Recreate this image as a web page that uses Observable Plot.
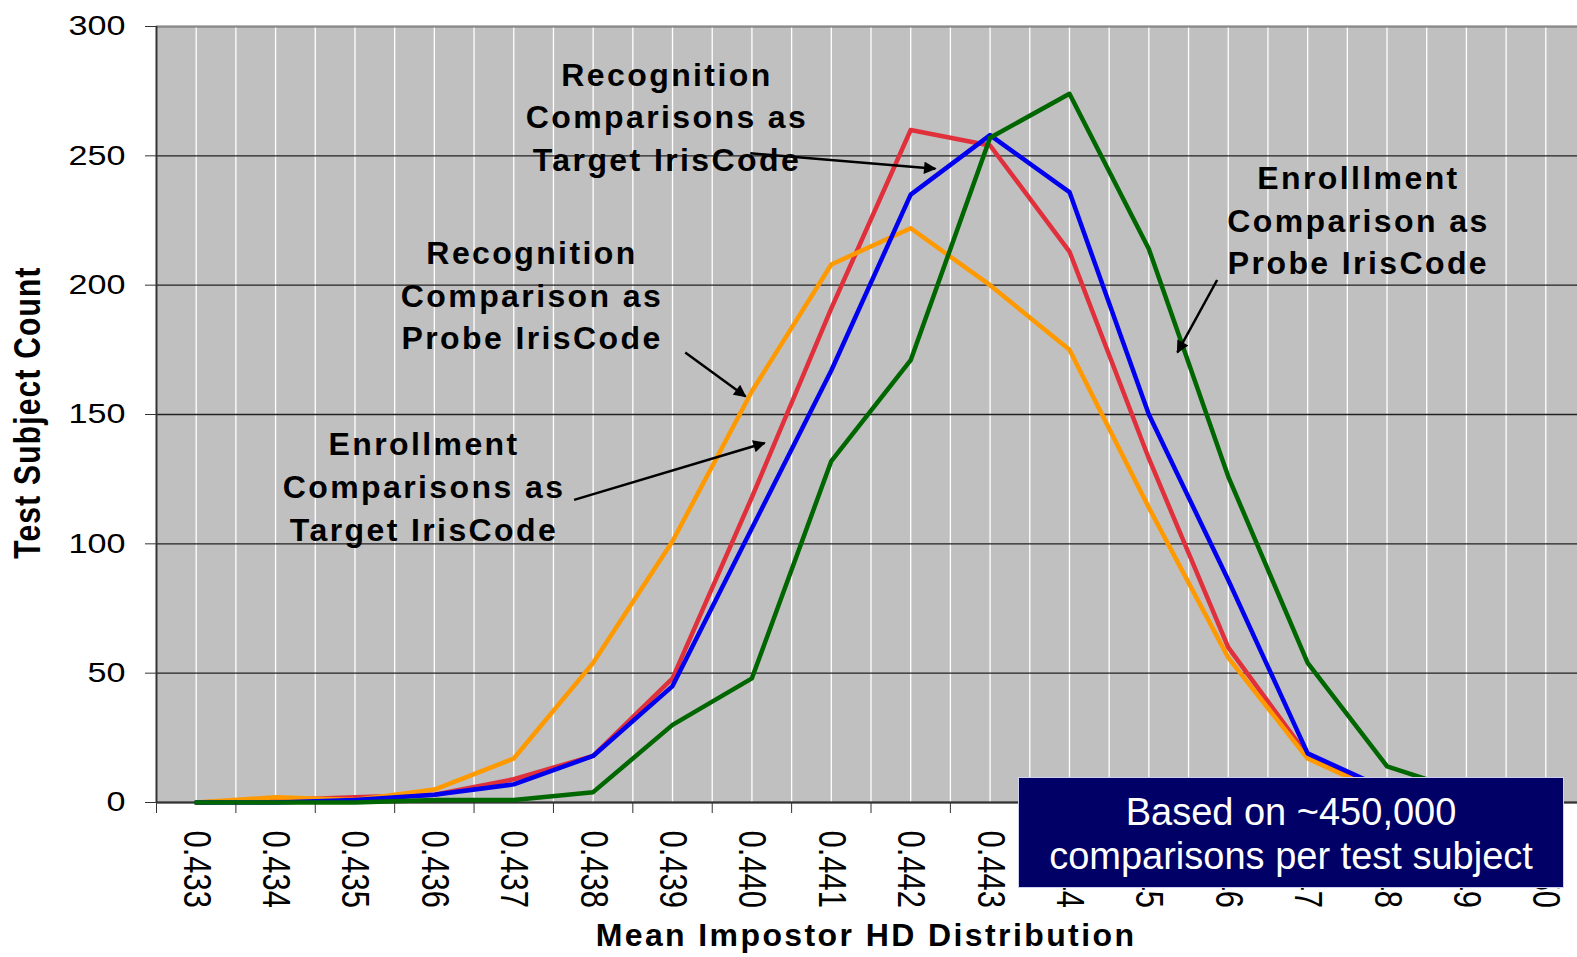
<!DOCTYPE html>
<html>
<head>
<meta charset="utf-8">
<script src="https://cdn.jsdelivr.net/npm/d3@7"></script>
<script src="https://cdn.jsdelivr.net/npm/@observablehq/plot@0.6"></script>
<style>
html, body { margin: 0; padding: 0; background: #fff; overflow: hidden; }
#wrap { position: relative; width: 1577px; height: 957px; overflow: hidden; }
#chart svg { max-width: none !important; }
#note { position: absolute; left: 1018px; top: 777px; width: 546px; height: 111px; box-sizing: border-box;
  background: #000066; border: 1.5px solid #d0d0f0; color: #fff;
  font: 38px "Liberation Sans", Arial, sans-serif; text-align: center; line-height: 44px; padding-top: 12px; }
.annot text { letter-spacing: 2.4px; }
.xtitle text { letter-spacing: 2.4px; }
.ytitle text { letter-spacing: 1.2px; }
</style>
</head>
<body>
<div id="wrap">
  <div id="chart"></div>
  <div id="note">Based on ~450,000<br>comparisons per test subject</div>
</div>
<script>
// Categories (x) and tick values
const categories = ["0.433","0.434","0.435","0.436","0.437","0.438","0.439","0.440","0.441",
                    "0.442","0.443","0.444","0.445","0.446","0.447","0.448","0.449","0.450"];
const yTicks = [0, 50, 100, 150, 200, 250, 300];

// Series values (test subject counts per category)
const enrollTarget = [0, 1, 2, 3, 9, 18, 48, 118, 191, 260, 254, 213, 133, 60, 18, 3, 1, 0];   // red
const recogTarget  = [0, 0, 1, 3, 7, 18, 45, 106, 167, 235, 258, 236, 150, 86, 19, 5, 1, 0];   // blue
const recogProbe   = [0, 2, 1, 5, 17, 54, 101, 159, 208, 222, 200, 175, 114, 56, 17, 3, 1, 0]; // orange
const enrollProbe  = [0, 0, 0, 1, 1, 4, 30, 48, 132, 171, 257, 274, 214, 126, 54, 14, 4, 1];   // green

// Annotation texts and anchors (category index, count)
const notes = [
  {text: "Recognition\nComparisons as\nTarget IrisCode", x: 5.93, y: 266},
  {text: "Recognition\nComparison as\nProbe IrisCode", x: 4.23, y: 197},
  {text: "Enrollment\nComparisons as\nTarget IrisCode", x: 2.87, y: 123},
  {text: "Enrolllment\nComparison as\nProbe IrisCode", x: 14.64, y: 226}
];
const arrows = [
  {x1: 6.98, y1: 251, x2: 9.31, y2: 245},
  {x1: 6.16, y1: 174, x2: 6.92, y2: 157},
  {x1: 4.76, y1: 117, x2: 7.16, y2: 139},
  {x1: 12.86, y1: 202, x2: 12.36, y2: 174}
];

const idx = categories.map((d, i) => i);
const bounds = d3.range(-0.5, categories.length, 1);
const vgrid = d3.range(-0.5, categories.length, 0.5);
const X = (d, i) => i;
const Y = d => d;

const chart = Plot.plot({
  width: 1600, height: 957,
  marginLeft: 156, marginRight: 15, marginTop: 26, marginBottom: 155,
  style: {fontFamily: '"Liberation Sans", Arial, sans-serif', background: "transparent", color: "#000", maxWidth: "none"},
  x: {type: "linear", domain: [-0.5, categories.length - 0.5], label: null},
  y: {domain: [0, 300], label: null},
  marks: [
    Plot.frame({fill: "#c0c0c0", stroke: "none"}),
    Plot.gridX(vgrid, {stroke: "#fff", strokeOpacity: 1, strokeWidth: 1.3}),
    Plot.gridY(yTicks, {stroke: "#222", strokeOpacity: 1, strokeWidth: 1.3}),
    Plot.ruleY([300], {stroke: "#8a8a8a", strokeWidth: 1.5}),
    Plot.ruleX([-0.5], {stroke: "#333", strokeWidth: 2}),
    Plot.ruleY([0], {stroke: "#333", strokeWidth: 2}),
    Plot.line(enrollTarget, {x: X, y: Y, stroke: "#e0303c", strokeWidth: 4.5}),
    Plot.line(recogProbe, {x: X, y: Y, stroke: "#ff9900", strokeWidth: 4.5}),
    Plot.line(recogTarget, {x: X, y: Y, stroke: "#0000ee", strokeWidth: 4.5}),
    Plot.line(enrollProbe, {x: X, y: Y, stroke: "#006600", strokeWidth: 4.5}),
    Plot.link(arrows, {x1: "x1", y1: "y1", x2: "x2", y2: "y2", stroke: "#000", strokeWidth: 2.5, className: "annarrow"}),
    Plot.text(notes, {x: "x", y: "y", text: "text", fontSize: 32, fontWeight: "bold", lineHeight: 1.33, fill: "#000", className: "annot"}),
    Plot.axisY(yTicks, {tickSize: 11, tickPadding: 20, fontSize: 28, stroke: "#333", className: "ylab"}),
    Plot.axisX(bounds, {tickSize: 11, tickFormat: () => "", stroke: "#333"}),
    Plot.axisX(idx, {tickSize: 0, tickRotate: 90, tickPadding: 28, fontSize: 31, tickFormat: i => categories[i], className: "xlab"}),
    Plot.text(["Mean Impostor HD Distribution"], {text: d => d, frameAnchor: "bottom", textAnchor: "middle", lineAnchor: "middle", dy: 133, dx: -5, fontSize: 32, fontWeight: "bold", className: "xtitle"}),
    Plot.text(["Test Subject Count"], {text: d => d, frameAnchor: "left", textAnchor: "middle", lineAnchor: "middle", rotate: -90, dx: -128, dy: -2, fontSize: 30, fontWeight: "bold", className: "ytitle"})
  ]
});
document.getElementById("chart").appendChild(chart);

// Filled arrow heads on the annotation links
const svg = d3.select(chart);
svg.append("defs").append("marker")
  .attr("id", "ahead").attr("viewBox", "0 0 10 10").attr("refX", 9).attr("refY", 5)
  .attr("markerWidth", 6.5).attr("markerHeight", 5).attr("orient", "auto")
  .append("path").attr("d", "M0,0L10,5L0,10Z").attr("fill", "#000");
svg.selectAll(".annarrow path").attr("marker-end", "url(#ahead)");

// Horizontal stretch of axis texts, as in the reference picture
function stretch(sel, sx, sy) {
  svg.selectAll(sel).each(function() {
    const t = this.getAttribute("transform");
    if (t) {
      this.setAttribute("transform", t + ` scale(${sx},${sy})`);
    } else {
      const x = +this.getAttribute("x") || 0, y = +this.getAttribute("y") || 0;
      this.setAttribute("transform", `translate(${x},${y}) scale(${sx},${sy}) translate(${-x},${-y})`);
    }
  });
}
stretch(".ylab text", 1.22, 1);
stretch(".xlab text", 1, 1.26);
stretch(".ytitle text", 1, 1.2);
</script>
</body>
</html>
